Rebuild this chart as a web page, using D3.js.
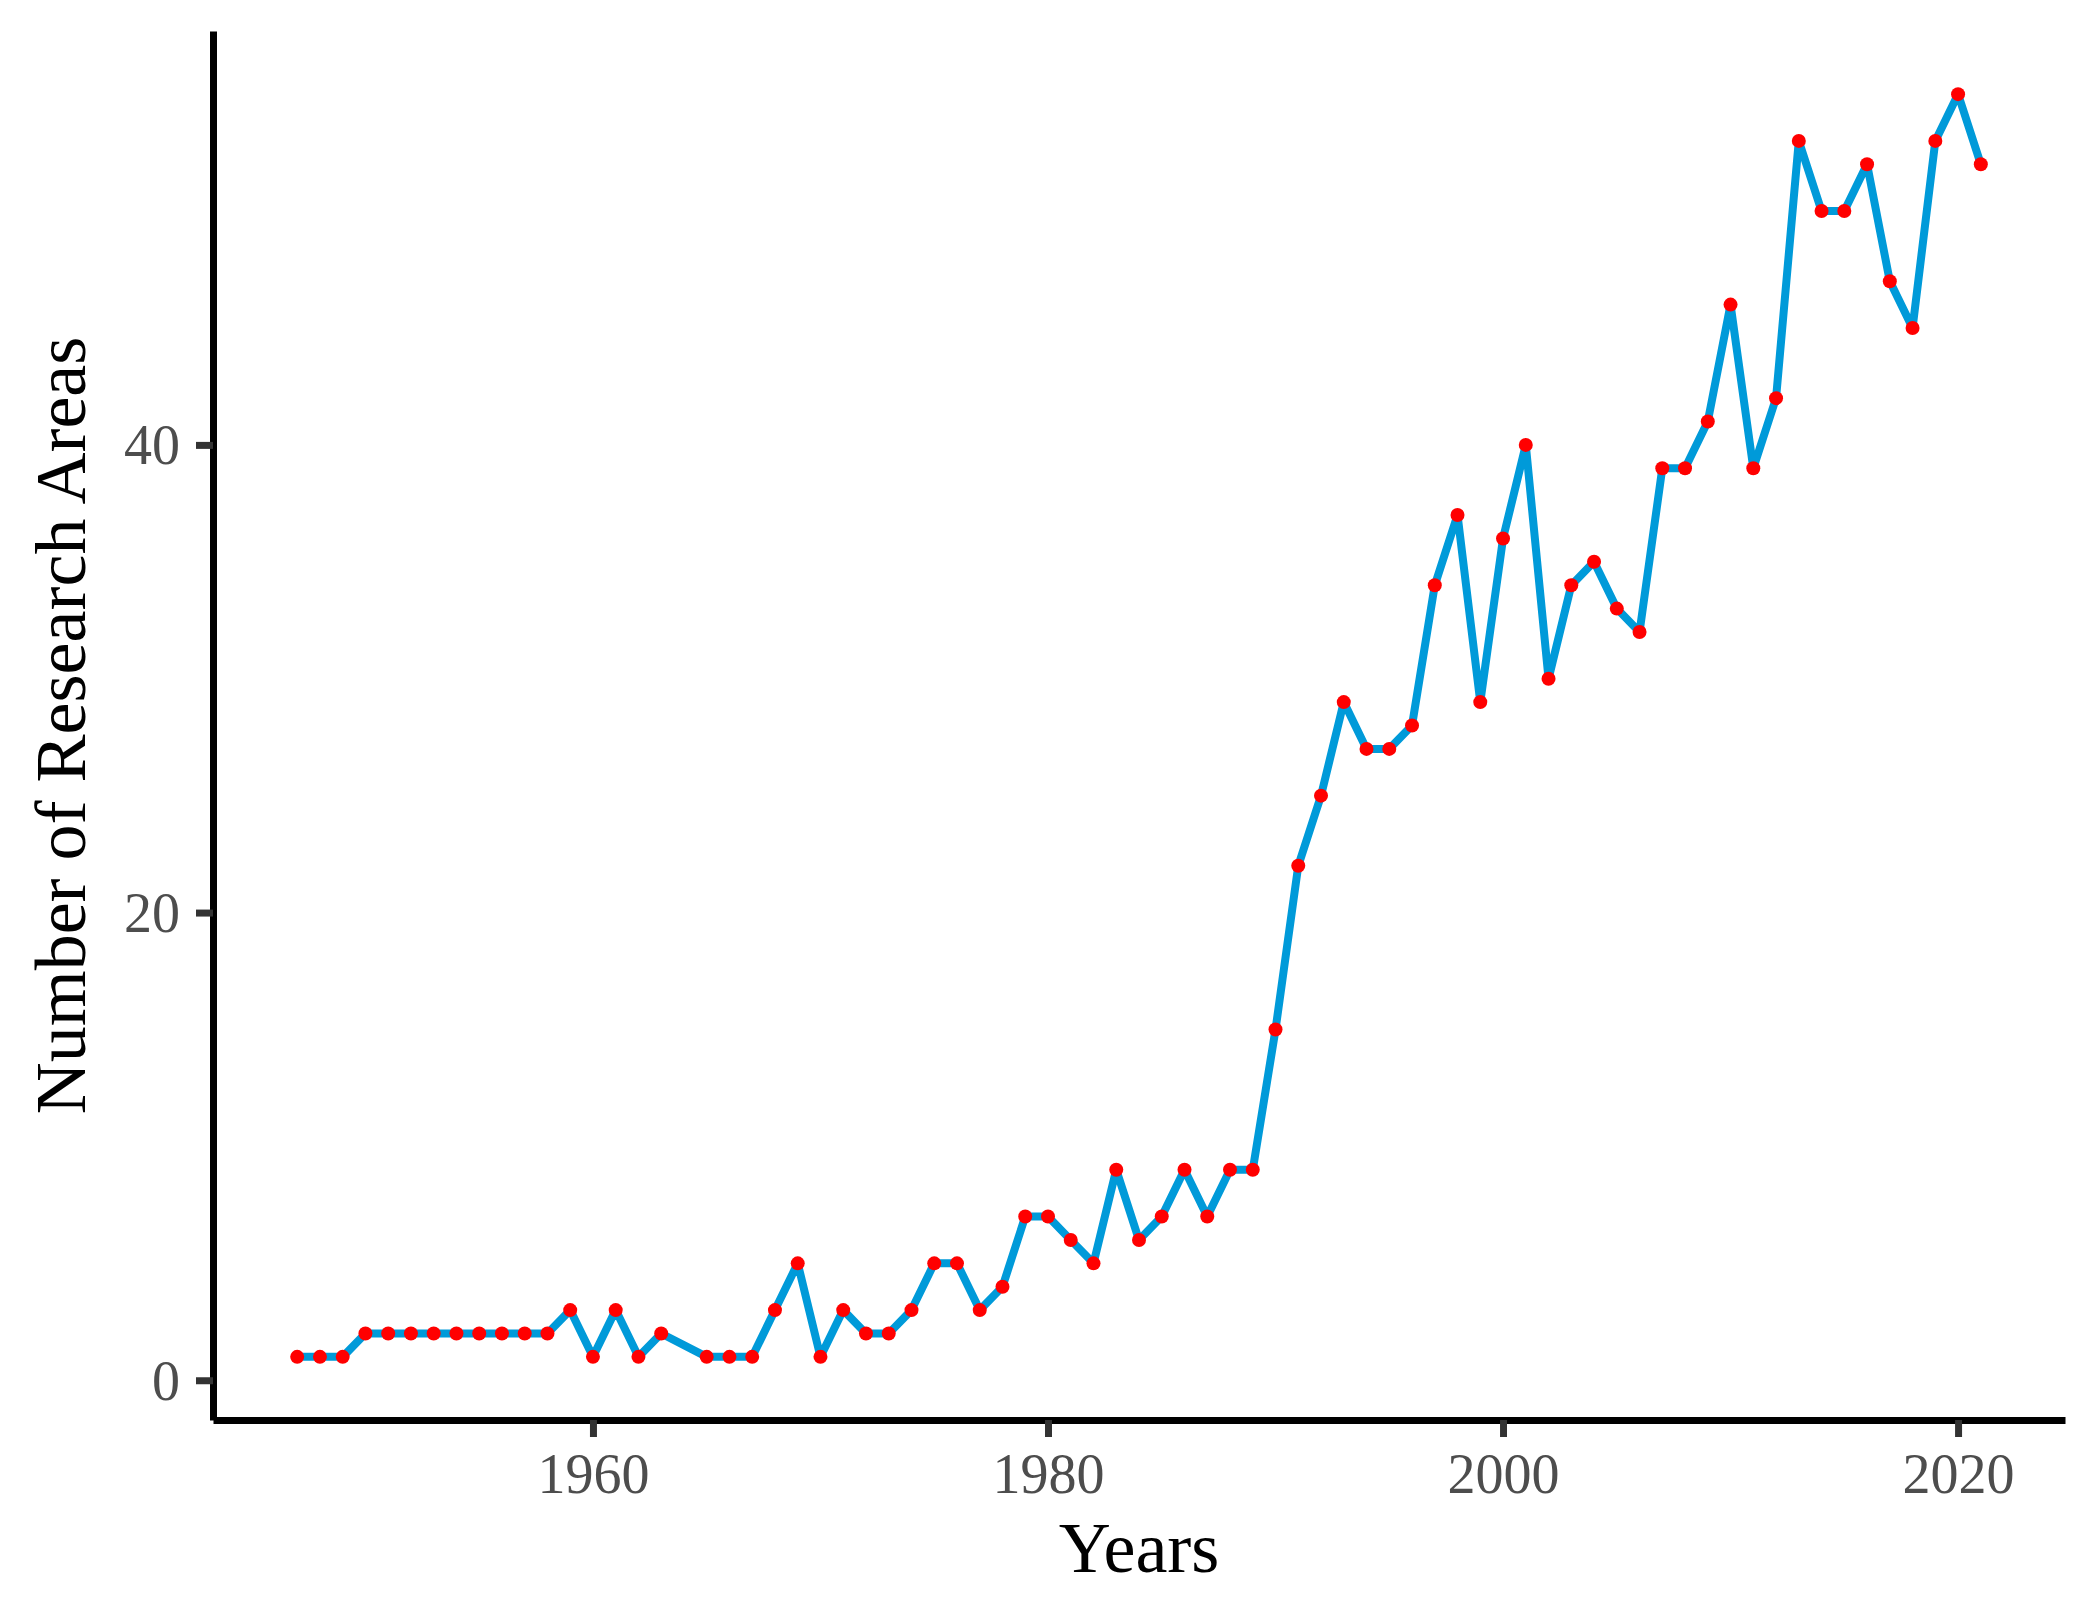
<!DOCTYPE html>
<html>
<head>
<meta charset="utf-8">
<script src="https://cdn.jsdelivr.net/npm/d3@7"></script>
<style>
  body { margin: 0; background: #fff; }
  svg { display: block; }
</style>
</head>
<body>
<svg id="vis" width="2092" height="1609"></svg>
<script>
// research areas per year (1964 has no entry)
let years = [1947, 1948, 1949, 1950, 1951, 1952, 1953, 1954, 1955, 1956,
             1957, 1958, 1959, 1960, 1961, 1962, 1963, 1965, 1966, 1967,
             1968, 1969, 1970, 1971, 1972, 1973, 1974, 1975, 1976, 1977,
             1978, 1979, 1980, 1981, 1982, 1983, 1984, 1985, 1986, 1987,
             1988, 1989, 1990, 1991, 1992, 1993, 1994, 1995, 1996, 1997,
             1998, 1999, 2000, 2001, 2002, 2003, 2004, 2005, 2006, 2007,
             2008, 2009, 2010, 2011, 2012, 2013, 2014, 2015, 2016, 2017,
             2018, 2019, 2020, 2021];
let areas = [1, 1, 1, 2, 2, 2, 2, 2, 2, 2,
             2, 2, 3, 1, 3, 1, 2, 1, 1, 1,
             3, 5, 1, 3, 2, 2, 3, 5, 5, 3,
             4, 7, 7, 6, 5, 9, 6, 7, 9, 7,
             9, 9, 15, 22, 25, 29, 27, 27, 28, 34,
             37, 29, 36, 40, 30, 34, 35, 33, 32, 39,
             39, 41, 46, 39, 42, 53, 50, 50, 52, 47,
             45, 53, 55, 52];
let x_ticks = [1960, 1980, 2000, 2020];
let y_ticks = [0, 20, 40];

let data = years.map((yr, i) => ({year: yr, n: areas[i]}));

let margin = {top: 31, right: 27, bottom: 189, left: 213};
let svg = d3.select("#vis");
let width = +svg.attr("width") - margin.left - margin.right;
let height = +svg.attr("height") - margin.top - margin.bottom;
let g = svg.append("g").attr("transform", `translate(${margin.left}, ${margin.top})`);

// ggplot style 5% padding on both axes
let x_ext = d3.extent(years);
let x_pad = (x_ext[1] - x_ext[0]) * 0.05;
let y_ext = d3.extent(areas);
let y_pad = (y_ext[1] - y_ext[0]) * 0.05;

let x = d3.scaleLinear()
    .domain([x_ext[0] - x_pad, x_ext[1] + x_pad])
    .range([0, width]);
let y = d3.scaleLinear()
    .domain([y_ext[0] - y_pad, y_ext[1] + y_pad])
    .range([height, 0]);

let font = "'Liberation Serif', 'Times New Roman', serif";

let xAxis = g.append("g")
    .attr("transform", `translate(0, ${height})`)
    .call(d3.axisBottom(x).tickValues(x_ticks).tickFormat(d3.format("d"))
        .tickSize(17).tickSizeOuter(0).tickPadding(16));

let yAxis = g.append("g")
    .call(d3.axisLeft(y).tickValues(y_ticks).tickFormat(d3.format("d"))
        .tickSize(17).tickSizeOuter(0).tickPadding(16));

[xAxis, yAxis].forEach(ax => {
    ax.select(".domain").attr("stroke", "#000").attr("stroke-width", 7);
    ax.selectAll(".tick line").attr("stroke", "#333333").attr("stroke-width", 7);
    ax.selectAll(".tick text")
        .attr("fill", "#4d4d4d")
        .style("font-family", font)
        .style("font-size", "56px");
});
xAxis.selectAll(".tick text").attr("dy", "0.72em");
yAxis.selectAll(".tick text").attr("dy", "0.34em");

let line = d3.line()
    .x(d => x(d.year))
    .y(d => y(d.n));

g.append("path")
    .datum(data)
    .attr("fill", "none")
    .attr("stroke", "#009ad9")
    .attr("stroke-width", 8)
    .attr("stroke-linejoin", "round")
    .attr("d", line);

g.selectAll(".pt")
    .data(data)
    .enter().append("circle")
        .attr("class", "pt")
        .attr("cx", d => x(d.year))
        .attr("cy", d => y(d.n))
        .attr("r", 7)
        .attr("fill", "#ff0000");

// axis titles
svg.append("text")
    .attr("x", margin.left + width / 2)
    .attr("y", 1572)
    .attr("text-anchor", "middle")
    .style("font-family", font)
    .style("font-size", "72px")
    .attr("fill", "#000")
    .text("Years");

svg.append("text")
    .attr("transform", `translate(85, ${margin.top + height / 2}) rotate(-90)`)
    .attr("text-anchor", "middle")
    .style("font-family", font)
    .style("font-size", "72px")
    .attr("fill", "#000")
    .text("Number of Research Areas");
</script>
</body>
</html>
